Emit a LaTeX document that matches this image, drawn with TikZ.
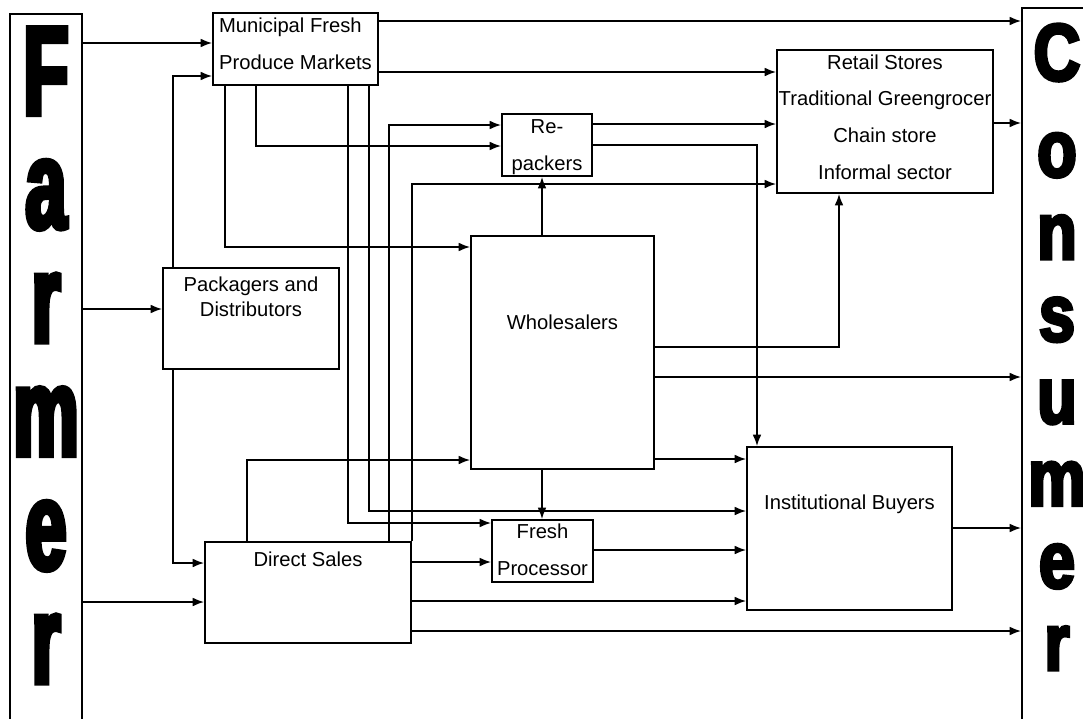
\documentclass[tikz,border=0pt]{standalone}
\usepackage{fontspec}
\setmainfont{Liberation Sans}
\newfontfamily\farmerfont[FakeStretch=0.58,FakeBold=4]{Liberation Sans}
\newfontfamily\consumerfont[FakeStretch=0.8,FakeBold=4]{Liberation Sans}
\usetikzlibrary{arrows.meta}
\tikzset{
  box/.style={rectangle, draw=black, line width=1pt, inner sep=0pt, align=center,
              anchor=base, font=\fontsize{11.5}{13.8}\selectfont},
  wide/.style={font=\fontsize{11.5}{20.8}\selectfont},
  side/.style={rectangle, draw=black, line width=1pt, inner sep=0pt, align=center, anchor=base},
  ar/.style={-{Latex[length=6.5pt,width=5pt]}, line width=1pt}
}

\begin{document}
\begin{tikzpicture}[x=0.02cm, y=-0.02cm]
\useasboundingbox (0,0) rectangle (1083,718);
% the two end columns
\node[side, minimum width=1.44cm, text height=13.38cm, text depth=0.78cm,
      font=\farmerfont\bfseries\fontsize{72}{64.7}\selectfont] (farmer) at (46,683) {F\\a\\r\\m\\e\\r};
\node[side, minimum width=1.4cm, text height=13.24cm, text depth=1.1cm,
      font=\consumerfont\bfseries\fontsize{46}{46.8}\selectfont] (consumer) at (1057,670) {C\\[8pt]o\\n\\s\\u\\m\\e\\r};
% channels
\node[box, wide, align=left, minimum width=3.3cm, text height=1.12cm, text depth=0.32cm] (market) at (295.5,69) {Municipal Fresh\\Produce Markets};
\node[box, wide, minimum width=4.32cm, text height=2.58cm, text depth=0.28cm] (retail) at (885,179) {Retail Stores\\Traditional Greengrocer\\Chain store\\Informal sector};
\node[box, wide, minimum width=1.8cm, text height=1.12cm, text depth=0.12cm] (repack) at (547,170) {Re-\\packers};
\node[box, minimum width=3.52cm, text height=0.96cm, text depth=1.06cm] (pack) at (251,316) {Packagers and\\Distributors};
\node[box, minimum width=3.66cm, text height=1.86cm, text depth=2.8cm] (whole) at (562.5,329) {Wholesalers};
\node[box, wide, minimum width=2.02cm, text height=1.1cm, text depth=0.14cm] (fresh) at (542.5,575) {Fresh\\Processor};
\node[box, minimum width=4.12cm, text height=0.48cm, text depth=1.54cm] (direct) at (308,566) {Direct Sales};
\node[box, minimum width=4.1cm, text height=1.24cm, text depth=2.02cm] (inst) at (849.5,509) {Institutional Buyers};
% farmer
\draw[ar] (farmer.east |- 0,43) -- (market.west |- 0,43);
\draw[ar] (farmer.east |- 0,309) -- (pack.west |- 0,309);
\draw[ar] (farmer.east |- 0,602) -- (direct.west |- 0,602);
% packagers
\draw[ar] (pack.north -| 173,0) |- (market.west |- 0,76);
\draw[ar] (pack.south -| 173,0) |- (direct.west |- 0,563);
% markets
\draw[ar] (market.east |- 0,21) -- (consumer.west |- 0,21);
\draw[ar] (market.east |- 0,72) -- (retail.west |- 0,72);
\draw[ar] (market.south -| 225,0) |- (whole.west |- 0,247);
\draw[ar] (market.south -| 256,0) |- (repack.west |- 0,146);
\draw[ar] (market.south -| 348,0) |- (fresh.west |- 0,523);
\draw[ar] (market.south -| 369,0) |- (inst.west |- 0,511);
% retail and re-packers
\draw[ar] (retail.east |- 0,123) -- (consumer.west |- 0,123);
\draw[ar] (repack.east |- 0,124) -- (retail.west |- 0,124);
\draw[ar] (repack.east |- 0,145) -| (inst.north -| 757,0);
% wholesalers
\draw[ar] (whole.north -| 542,0) -- (repack.south -| 542,0);
\draw[ar] (whole.south -| 542,0) -- (fresh.north -| 542,0);
\draw[ar] (whole.east |- 0,347) -| (retail.south -| 839,0);
\draw[ar] (whole.east |- 0,377) -- (consumer.west |- 0,377);
\draw[ar] (whole.east |- 0,459) -- (inst.west |- 0,459);
\draw[ar] (fresh.east |- 0,550) -- (inst.west |- 0,550);
% direct sales
\draw[ar] (direct.north -| 247,0) |- (whole.west |- 0,460);
\draw[ar] (direct.north -| 389,0) |- (repack.west |- 0,125);
\draw[ar] (direct.north east) |- (retail.west |- 0,184);
\draw[ar] (direct.east |- 0,562) -- (fresh.west |- 0,562);
\draw[ar] (direct.east |- 0,601) -- (inst.west |- 0,601);
\draw[ar] (direct.east |- 0,631) -- (consumer.west |- 0,631);
\draw[ar] (inst.east |- 0,528) -- (consumer.west |- 0,528);
\end{tikzpicture}
\end{document}
